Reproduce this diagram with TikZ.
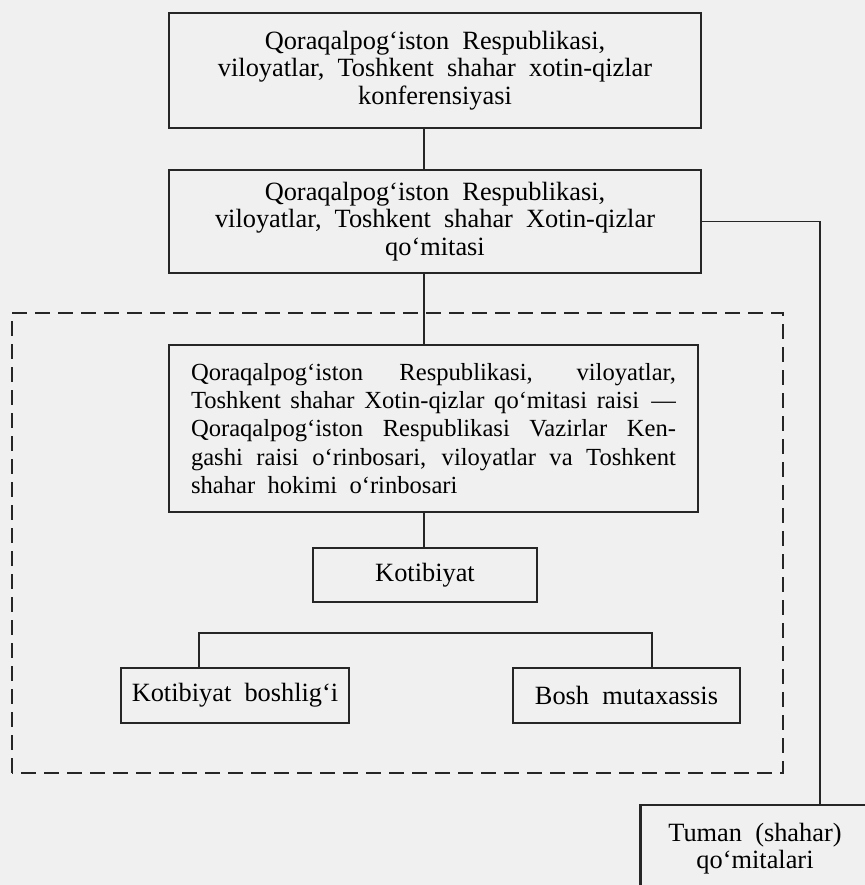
\documentclass[tikz,border=0pt]{standalone}
\usepackage{fontspec}
\setmainfont{Liberation Serif}
\usepackage{tikz}
\usetikzlibrary{positioning, calc}

\newcommand{\fullline}[1]{{\spaceskip=0pt\xspaceskip=0pt\makebox[9.7cm][s]{#1}}}

\begin{document}
\begin{tikzpicture}[
    box/.style={rectangle, draw=black!85, line width=1.3pt, inner sep=4pt,
                font=\fontsize{15}{15.6}\selectfont},
    link/.style={draw=black!85, line width=0.9pt},
    frame/.style={draw=black!85, line width=1.3pt, dash pattern=on 0.3cm off 0.16cm}
]
    % Page and paper tone
    \clip (0,0) rectangle (17.3,17.7);
    \fill[black!6] (0,0) rectangle (17.3,17.7);

    % Upper boxes
    \node[box, minimum width=10.64cm, minimum height=2.3cm, text width=10.3cm, align=center]
        (conf) at (8.70,16.29) {Qoraqalpog‘iston\enspace Respublikasi,\\ viloyatlar,\enspace Toshkent\enspace shahar\enspace xotin-qizlar\\ konferensiyasi};
    \node[box, minimum width=10.64cm, minimum height=2.06cm, text width=10.3cm, align=center]
        (qomita) at (8.70,13.27) {Qoraqalpog‘iston\enspace Respublikasi,\\ viloyatlar,\enspace Toshkent\enspace shahar\enspace Xotin-qizlar\\ qo‘mitasi};

    % Dashed frame
    \draw[frame] (0.24,2.24) rectangle (15.66,11.44);

    % Inner boxes
    \node[box, minimum width=10.58cm, minimum height=3.34cm, text width=9.7cm, align=left,
          font=\fontsize{14}{16}\selectfont]
        (rais) at (8.67,9.13) {\fullline{Qoraqalpog‘iston Respublikasi, viloyatlar,}\\
        \fullline{Toshkent shahar Xotin-qizlar qo‘mitasi raisi\enspace —}\\
        \fullline{Qoraqalpog‘iston Respublikasi Vazirlar Ken-}\\
        \fullline{gashi raisi o‘rinbosari, viloyatlar va Toshkent}\\
        shahar\enspace hokimi\enspace o‘rinbosari};
    \node[box, minimum width=4.48cm, minimum height=1.08cm] (kotib) at (8.50,6.20) {Kotibiyat};
    \node[box, minimum width=4.56cm, minimum height=1.1cm] (boshliq) at (4.70,3.79) {Kotibiyat\enspace boshlig‘i};
    \node[box, minimum width=4.54cm, minimum height=1.1cm] (mutax) at (12.53,3.79) {Bosh\enspace mutaxassis};

    % Lower right box
    \node[box, minimum width=4.56cm, minimum height=1.75cm, text width=4.3cm, align=center]
        (tuman) at (15.10,0.73) {Tuman\enspace (shahar)\\ qo‘mitalari};

    % Connectors
    \coordinate (spine) at (8.48,0);
    \coordinate (barL) at (3.98,5.04);
    \coordinate (barR) at (13.04,5.04);
    \coordinate (side) at (16.40,0);
    \draw[link] (spine |- conf.south) -- (spine |- qomita.north);
    \draw[link] (spine |- qomita.south) -- (spine |- rais.north);
    \draw[link] (spine |- rais.south) -- (spine |- kotib.north);
    \draw[link] (barL |- boshliq.north) -- (barL) -- (barR) -- (barR |- mutax.north);
    \draw[link] (qomita.east) -| (side |- tuman.north);

\end{tikzpicture}
\end{document}
